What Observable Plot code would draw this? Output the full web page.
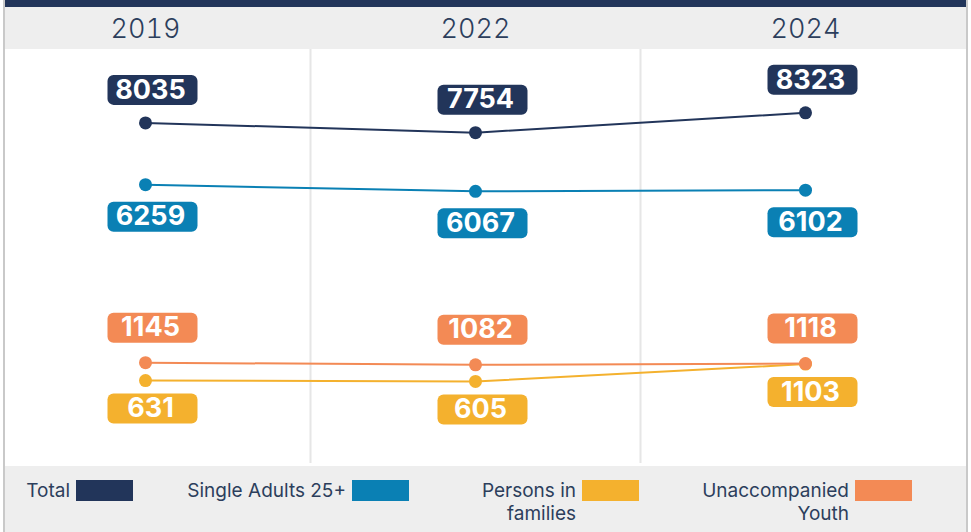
<!DOCTYPE html>
<html>
<head>
<meta charset="utf-8">
<script src="https://cdn.jsdelivr.net/npm/d3@7"></script>
<script src="https://cdn.jsdelivr.net/npm/@observablehq/plot@0.6"></script>
<style>
  html, body { margin: 0; padding: 0; background: #ffffff; }
  #wrap { position: relative; width: 971px; height: 532px; overflow: hidden; font-family: Inter, "Noto Sans", sans-serif; color: #2c3e5c; }
  #topbar { position: absolute; left: 4px; top: 0; width: 963px; height: 7px; background: #22355a; }
  #header { position: absolute; left: 5px; top: 7px; width: 961px; height: 42px; background: #eeeeee; }
  #legend { position: absolute; left: 5px; top: 466px; width: 961px; height: 66px; background: #eeeeee; }
  .bl { position: absolute; top: 0; width: 2px; height: 532px; background: #c9c9c9; }
  #chart { position: absolute; left: 0; top: 7px; }
  .item { position: absolute; top: 13px; display: flex; align-items: flex-start; }
  .item .lab { font-size: 19px; line-height: 23px; text-align: right; color: #2c3e5c; }
  .item .sw { width: 57px; height: 21px; margin-left: 6px; margin-top: 1px; }
</style>
</head>
<body>
<div id="wrap">
  <div id="header"></div>
  <div id="legend"></div>
  <div id="chart"></div>
  <div id="topbar"></div>
  <div class="bl" style="left:3px"></div>
  <div class="bl" style="left:966px"></div>
</div>
<script>
// ---- data ----
const years = ["2019", "2022", "2024"];
const seriesNames = ["Total", "Single Adults 25+", "Persons in families", "Unaccompanied Youth"];
const legendLines = [["Total"], ["Single Adults 25+"], ["Persons in", "families"], ["Unaccompanied", "Youth"]];
const totalValues = [8035, 7754, 8323];
const singleAdultValues = [6259, 6067, 6102];
const familyValues = [631, 605, 1103];
const youthValues = [1145, 1082, 1118];
const seriesColors = ["#22355a", "#0a80b4", "#f4b12e", "#f38a55"];

const valuesBySeries = [totalValues, singleAdultValues, familyValues, youthValues];
const rows = [];
seriesNames.forEach((s, si) => valuesBySeries[si].forEach((v, i) => rows.push({series: s, i, year: years[i], value: v})));

// label placement (style): vertical offset of each series' badge
const labelDy = {"Total": -33, "Single Adults 25+": 32, "Persons in families": 28, "Unaccompanied Youth": -35};
const drawOrder = ["Total", "Single Adults 25+", "Persons in families", "Unaccompanied Youth"];

const badge = {
  draw(ctx) {
    const w = 90, h = 30, r = 6;
    const x0 = -w / 2, y0 = -h / 2, x1 = w / 2, y1 = h / 2;
    ctx.moveTo(x0 + r, y0);
    ctx.lineTo(x1 - r, y0);
    ctx.arcTo(x1, y0, x1, y0 + r, r);
    ctx.lineTo(x1, y1 - r);
    ctx.arcTo(x1, y1, x1 - r, y1, r);
    ctx.lineTo(x0 + r, y1);
    ctx.arcTo(x0, y1, x0, y1 - r, r);
    ctx.lineTo(x0, y0 + r);
    ctx.arcTo(x0, y0, x0 + r, y0, r);
    ctx.closePath();
  }
};

const colorOf = s => seriesColors[seriesNames.indexOf(s)];
const marks = [
  Plot.ruleX(d3.range(1, years.length).map(i => i - 0.5), {stroke: "#e6e6e6", strokeWidth: 2, insetTop: -5, insetBottom: -61}),
  Plot.axisX({anchor: "top", ticks: d3.range(years.length), tickFormat: i => years[i], label: null, tickSize: 0, tickPadding: 17, fontSize: 27, fontWeight: 300, fill: "#2c3e5c"})
];
for (const s of drawOrder) {
  const d = rows.filter(r => r.series === s);
  marks.push(Plot.line(d, {x: "i", y: "value", stroke: colorOf(s), strokeWidth: 2}));
}
for (const s of drawOrder) {
  const d = rows.filter(r => r.series === s);
  marks.push(Plot.dot(d, {x: "i", y: "value", fill: colorOf(s), r: 6.5}));
}
for (const s of drawOrder) {
  const d = rows.filter(r => r.series === s);
  const c = colorOf(s);
  marks.push(Plot.dot(d, {x: "i", y: "value", symbol: badge, fill: c, stroke: "none", dx: 7, dy: labelDy[s]}));
  marks.push(Plot.text(d, {x: "i", y: "value", text: d => String(d.value), fill: "white", fontSize: 27, fontWeight: 700, fontFamily: "Inter", dx: 5, dy: labelDy[s]}));
}

const chart = Plot.plot({
  width: 971,
  height: 459,
  marginLeft: 145,
  marginRight: 166,
  marginTop: 47,
  marginBottom: 64,
  style: {background: "transparent", fontFamily: "Inter", color: "#2c3e5c", overflow: "visible"},
  x: {type: "linear", domain: [0, years.length - 1], axis: null, label: null},
  y: {domain: [0, 10000], axis: null},
  marks
});
document.getElementById("chart").appendChild(chart);

// legend
const legendRight = [70, 346, 576, 849];
const legend = document.getElementById("legend");
seriesNames.forEach((s, i) => {
  const item = document.createElement("div");
  item.className = "item";
  const lab = document.createElement("div");
  lab.className = "lab";
  lab.innerHTML = legendLines[i].join("<br>");
  const sw = document.createElement("div");
  sw.className = "sw";
  sw.style.background = seriesColors[i];
  item.appendChild(lab);
  item.appendChild(sw);
  legend.appendChild(item);
  const rect = lab.getBoundingClientRect();
  item.style.left = (legendRight[i] - 5 - rect.width) + "px";
});
</script>
</body>
</html>
